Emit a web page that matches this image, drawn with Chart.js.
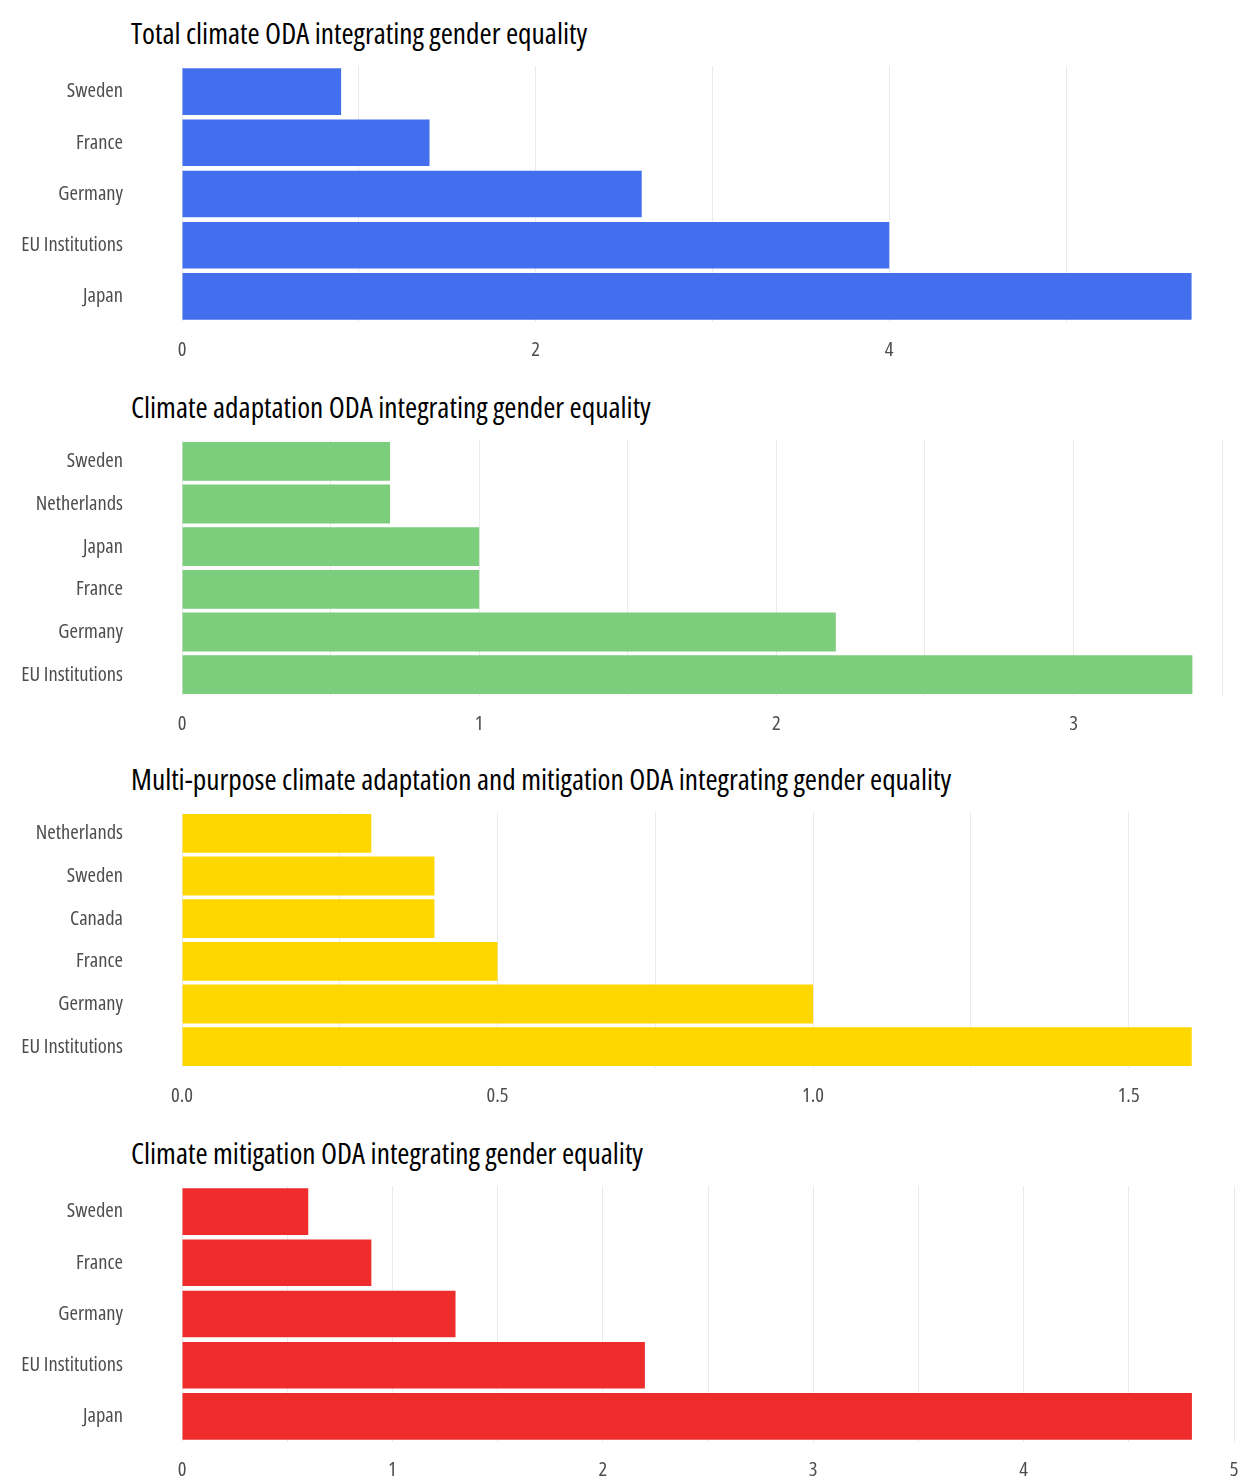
<!DOCTYPE html>
<html>
<head>
<meta charset="utf-8">
<script src="https://cdn.jsdelivr.net/npm/chart.js@4.4.1/dist/chart.umd.min.js"></script>
<style>
  html, body { margin: 0; padding: 0; background: #fff; overflow: hidden; }
  body { width: 1242px; height: 1481px; position: relative; }
  .title {
    position: absolute; left: 131px; margin: 0;
    font-family: "Open Sans", sans-serif; font-stretch: condensed;
    font-size: 29.4px; font-weight: 400; color: #000; line-height: 38px; white-space: nowrap;
  }
  canvas { position: absolute; left: 0; }
</style>
</head>
<body>
<script>
const totalLabels = ["Sweden", "France", "Germany", "EU Institutions", "Japan"];
const totalValues = [0.9, 1.4, 2.6, 4.0, 5.71];

const adaptLabels = ["Sweden", "Netherlands", "Japan", "France", "Germany", "EU Institutions"];
const adaptValues = [0.7, 0.7, 1.0, 1.0, 2.2, 3.4];

const multiLabels = ["Netherlands", "Sweden", "Canada", "France", "Germany", "EU Institutions"];
const multiValues = [0.3, 0.4, 0.4, 0.5, 1.0, 1.6];

const mitigLabels = ["Sweden", "France", "Germany", "EU Institutions", "Japan"];
const mitigValues = [0.6, 0.9, 1.3, 2.2, 4.8];

const titles = [
  "Total climate ODA integrating gender equality",
  "Climate adaptation ODA integrating gender equality",
  "Multi-purpose climate adaptation and mitigation ODA integrating gender equality",
  "Climate mitigation ODA integrating gender equality",
];
const colors = ["#436EEE", "#7CCD7C", "#FFD700", "#EE2C2C"];
const gridSteps = [1, 0.5, 0.25, 0.5];
const labelSteps = [2, 1, 0.5, 1];
const axisMax = [5.95, 3.54, 1.667, 5];
const decimals = [0, 0, 1, 0];
const panelTops = [0, 374, 746, 1120];

const panels = [
  [totalLabels, totalValues],
  [adaptLabels, adaptValues],
  [multiLabels, multiValues],
  [mitigLabels, mitigValues],
];

// "condensed" goes in the weight slot so it lands in the canvas font string
const tickFont = { family: '"Open Sans", sans-serif', size: 20.5, weight: "condensed" };

function isMultiple(v, step) {
  return Math.abs(v / step - Math.round(v / step)) < 1e-6;
}

panels.forEach(([labels, values], i) => {
  const top = panelTops[i];

  const h = document.createElement("div");
  h.className = "title";
  h.style.top = (top + 14) + "px";
  h.textContent = titles[i];
  document.body.appendChild(h);

  const canvas = document.createElement("canvas");
  canvas.width = 1242;
  canvas.height = 322;
  canvas.style.top = (top + 50) + "px";
  document.body.appendChild(canvas);

  new Chart(canvas, {
    type: "bar",
    data: {
      labels: labels,
      datasets: [{
        data: values,
        backgroundColor: colors[i],
        barPercentage: 0.91,
        categoryPercentage: 1,
      }],
    },
    options: {
      indexAxis: "y",
      responsive: false,
      animation: false,
      layout: { padding: { top: 16, right: 8, left: 0, bottom: 0 } },
      plugins: { legend: { display: false }, tooltip: { enabled: false } },
      scales: {
        x: {
          min: 0,
          max: axisMax[i],
          border: { display: false },
          grid: {
            drawTicks: false,
            color: (ctx) => (ctx.tick && isMultiple(ctx.tick.value, gridSteps[i]) ? "#ebebeb" : "rgba(0,0,0,0)"),
          },
          ticks: {
            stepSize: gridSteps[i],
            includeBounds: false,
            autoSkip: false,
            maxRotation: 0,
            padding: 16,
            color: "#4d4d4d",
            font: tickFont,
            callback: (value) => (isMultiple(value, labelSteps[i]) ? Number(value).toFixed(decimals[i]) : ""),
          },
          afterFit: (scale) => {
            scale.height = 50;
            scale.paddingLeft = 0;
            scale.paddingRight = 0;
          },
        },
        y: {
          border: { display: false },
          grid: { display: false, drawTicks: false },
          ticks: {
            padding: 59,
            color: "#4d4d4d",
            font: tickFont,
          },
          afterFit: (scale) => {
            // keep the wide label gap from padding the plot top and bottom
            scale.width = 182;
            scale.paddingTop = 0;
            scale.paddingBottom = 0;
          },
        },
      },
    },
  });
});
</script>
</body>
</html>
